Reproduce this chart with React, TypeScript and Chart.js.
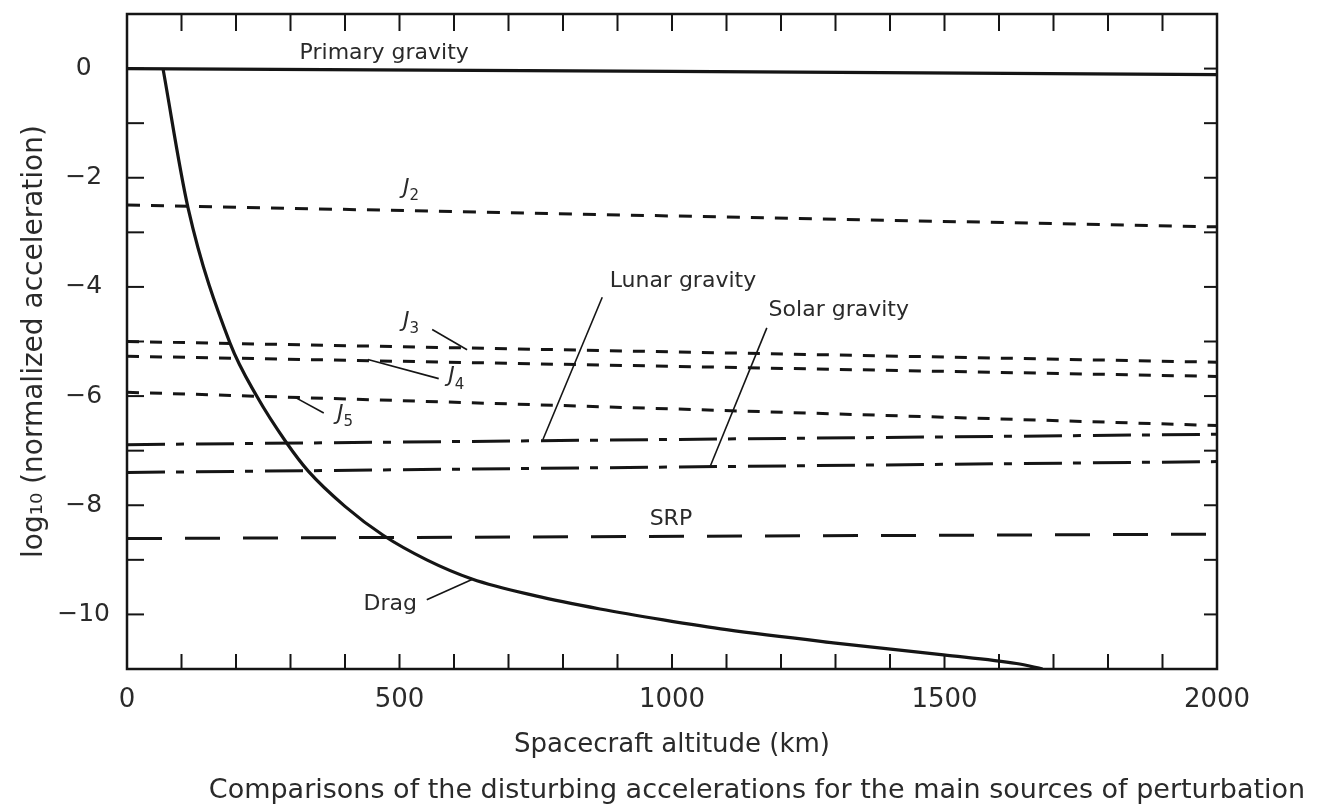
import React, { useEffect, useRef } from "react";
import { Chart, registerables } from "chart.js";

Chart.register(...registerables);

// ---- Tick labels ----
const altitudeTicks = [0, 500, 1000, 1500, 2000];
const accelTicks = [0, -2, -4, -6, -8, -10];

// ---- Series (altitude km, log10 normalized acceleration) ----
const primaryAlt = [0, 1000, 2000];
const primaryVal = [0, -0.05, -0.11];

const j2Alt = [0, 2000];
const j2Val = [-2.5, -2.9];

const j3Alt = [0, 2000];
const j3Val = [-5.0, -5.38];

const j4Alt = [0, 2000];
const j4Val = [-5.27, -5.64];

const j5Alt = [0, 2000];
const j5Val = [-5.93, -6.54];

const lunarAlt = [0, 2000];
const lunarVal = [-6.89, -6.7];

const solarAlt = [0, 2000];
const solarVal = [-7.4, -7.2];

const srpAlt = [0, 2000];
const srpVal = [-8.61, -8.53];

const dragAlt = [66, 112, 189, 238, 293, 333, 400, 470, 550, 633, 750, 868, 984, 1100, 1296, 1498, 1632, 1680];
const dragVal = [0, -2.55, -5.03, -6.0, -6.86, -7.38, -8.02, -8.55, -9.0, -9.35, -9.66, -9.9, -10.1, -10.28, -10.52, -10.74, -10.9, -11];

// ---- Annotation text (placed in data coordinates) ----
const labelTexts = ["Primary gravity", "Lunar gravity", "Solar gravity", "SRP", "Drag"];
const labelAlt = [472, 1020, 1306, 998, 483];
const labelVal = [0.28, -3.9, -4.43, -8.26, -9.82];

const harmonicSubs = ["2", "3", "4", "5"];
const harmonicAlt = [521, 521, 604, 400];
const harmonicVal = [-2.25, -4.69, -5.7, -6.39];

// leader lines: Lunar, Solar, J3, J4, J5, Drag
const leaderFromAlt = [872, 1174, 560, 442, 306, 550];
const leaderFromVal = [-4.19, -4.75, -4.78, -5.33, -6.01, -9.73];
const leaderToAlt = [763, 1070, 624, 572, 361, 633];
const leaderToVal = [-6.8, -7.29, -5.15, -5.68, -6.31, -9.36];

const xTitle = "Spacecraft altitude (km)";
const yTitle = "log\u2081\u2080 (normalized acceleration)";
const caption = "Comparisons of the disturbing accelerations for the main sources of perturbation";

const FONT = "'DejaVu Sans', 'Liberation Sans', sans-serif";
const INK = "#151515";
const TEXT = "#2a2a2a";

function pts(xs: number[], ys: number[]) {
  return xs.map((x, i) => ({ x, y: ys[i] }));
}

const framePlugin = {
  id: "framePlugin",
  afterDatasetsDraw(chart: any) {
    const { ctx, chartArea: a, scales } = chart;
    const xs = scales.x;
    const ys = scales.y;
    ctx.save();
    ctx.strokeStyle = INK;
    ctx.lineCap = "butt";

    // frame
    ctx.lineWidth = 2.5;
    ctx.strokeRect(a.left, a.top, a.right - a.left, a.bottom - a.top);

    // inward tick marks
    ctx.lineWidth = 2;
    const seg = (x1: number, y1: number, x2: number, y2: number) => {
      ctx.beginPath();
      ctx.moveTo(x1, y1);
      ctx.lineTo(x2, y2);
      ctx.stroke();
    };
    for (let v = xs.min + 100; v < xs.max; v += 100) {
      const px = xs.getPixelForValue(v);
      seg(px, a.bottom, px, a.bottom - 15);
      seg(px, a.top, px, a.top + 17);
    }
    for (let v = Math.ceil(ys.min) + 1; v < ys.max; v += 1) {
      const py = ys.getPixelForValue(v);
      seg(a.left, py, a.left + 17, py);
      seg(a.right, py, a.right - 13, py);
    }

    // leader lines
    ctx.lineWidth = 1.6;
    for (let i = 0; i < leaderFromAlt.length; i++) {
      seg(
        xs.getPixelForValue(leaderFromAlt[i]),
        ys.getPixelForValue(leaderFromVal[i]),
        xs.getPixelForValue(leaderToAlt[i]),
        ys.getPixelForValue(leaderToVal[i])
      );
    }

    // text labels
    ctx.fillStyle = TEXT;
    ctx.textAlign = "center";
    ctx.textBaseline = "middle";
    ctx.font = `22px ${FONT}`;
    for (let i = 0; i < labelTexts.length; i++) {
      ctx.fillText(labelTexts[i], xs.getPixelForValue(labelAlt[i]), ys.getPixelForValue(labelVal[i]));
    }

    // J_n labels with subscripts
    for (let i = 0; i < harmonicSubs.length; i++) {
      const cx = xs.getPixelForValue(harmonicAlt[i]);
      const cy = ys.getPixelForValue(harmonicVal[i]);
      ctx.font = `italic 22px ${FONT}`;
      const jw = ctx.measureText("J").width;
      ctx.font = `15px ${FONT}`;
      const sw = ctx.measureText(harmonicSubs[i]).width;
      const left = cx - (jw + sw) / 2;
      ctx.textAlign = "left";
      ctx.font = `italic 22px ${FONT}`;
      ctx.fillText("J", left, cy - 3);
      ctx.font = `15px ${FONT}`;
      ctx.fillText(harmonicSubs[i], left + jw, cy + 5);
    }

    ctx.restore();
  },
  afterDraw(chart: any) {
    const { ctx } = chart;
    ctx.save();
    ctx.fillStyle = TEXT;
    ctx.textAlign = "center";
    ctx.textBaseline = "middle";
    ctx.font = `27px ${FONT}`;
    ctx.fillText(caption, 757, 791);
    ctx.restore();
  },
};

export default function App() {
  const canvasRef = useRef<HTMLCanvasElement | null>(null);

  useEffect(() => {
    if (!canvasRef.current) return;
    const base = { pointRadius: 0, borderColor: INK, fill: false, tension: 0 };
    const chart = new Chart(canvasRef.current, {
      type: "line",
      data: {
        datasets: [
          { ...base, label: "Primary gravity", data: pts(primaryAlt, primaryVal), borderWidth: 3.2 },
          { ...base, label: "J2", data: pts(j2Alt, j2Val), borderWidth: 3, borderDash: [13, 11] },
          { ...base, label: "J3", data: pts(j3Alt, j3Val), borderWidth: 3, borderDash: [12, 11] },
          { ...base, label: "J4", data: pts(j4Alt, j4Val), borderWidth: 3, borderDash: [12, 11] },
          { ...base, label: "J5", data: pts(j5Alt, j5Val), borderWidth: 3, borderDash: [12, 11] },
          { ...base, label: "Lunar gravity", data: pts(lunarAlt, lunarVal), borderWidth: 3, borderDash: [38, 11, 8, 12] },
          { ...base, label: "Solar gravity", data: pts(solarAlt, solarVal), borderWidth: 3, borderDash: [38, 11, 8, 12] },
          { ...base, label: "SRP", data: pts(srpAlt, srpVal), borderWidth: 3, borderDash: [35, 23] },
          { ...base, label: "Drag", data: pts(dragAlt, dragVal), borderWidth: 3.2, cubicInterpolationMode: "monotone" },
        ] as any,
      },
      options: {
        animation: false,
        responsive: true,
        maintainAspectRatio: false,
        layout: { padding: { left: 0, right: 106, top: 14, bottom: 0 } },
        plugins: { legend: { display: false }, tooltip: { enabled: false } },
        scales: {
          x: {
            type: "linear",
            min: 0,
            max: 2000,
            afterBuildTicks: (s: any) => {
              s.ticks = altitudeTicks.map((v) => ({ value: v }));
            },
            afterFit: (s: any) => {
              s.height = 143;
              s.paddingLeft = 0;
              s.paddingRight = 0;
            },
            grid: { display: false, drawTicks: false },
            border: { display: false },
            ticks: {
              autoSkip: false,
              maxRotation: 0,
              padding: 16,
              color: TEXT,
              font: { family: FONT, size: 26 },
              callback: (v: any) => String(v),
            },
            title: {
              display: true,
              text: xTitle,
              color: TEXT,
              font: { family: FONT, size: 26 },
              padding: { top: 0, bottom: 51 },
            },
          },
          y: {
            type: "linear",
            min: -11,
            max: 1,
            afterBuildTicks: (s: any) => {
              s.ticks = accelTicks.map((v) => ({ value: v }));
            },
            afterFit: (s: any) => {
              s.width = 127;
              s.paddingTop = 0;
              s.paddingBottom = 0;
            },
            grid: { display: false, drawTicks: false },
            border: { display: false },
            ticks: {
              autoSkip: false,
              padding: 17,
              crossAlign: "center",
              color: TEXT,
              font: { family: FONT, size: 25 },
              callback: (v: any) => String(v).replace("-", "\u2212"),
            },
            title: {
              display: true,
              text: yTitle,
              color: TEXT,
              font: { family: FONT, size: 28 },
              padding: { top: 18, bottom: 0 },
            },
          },
        },
      } as any,
      plugins: [framePlugin],
    });
    return () => chart.destroy();
  }, []);

  return (
    <div style={{ position: "fixed", left: 0, top: 0, width: 1323, height: 812, background: "#fff" }}>
      <canvas ref={canvasRef} />
    </div>
  );
}
